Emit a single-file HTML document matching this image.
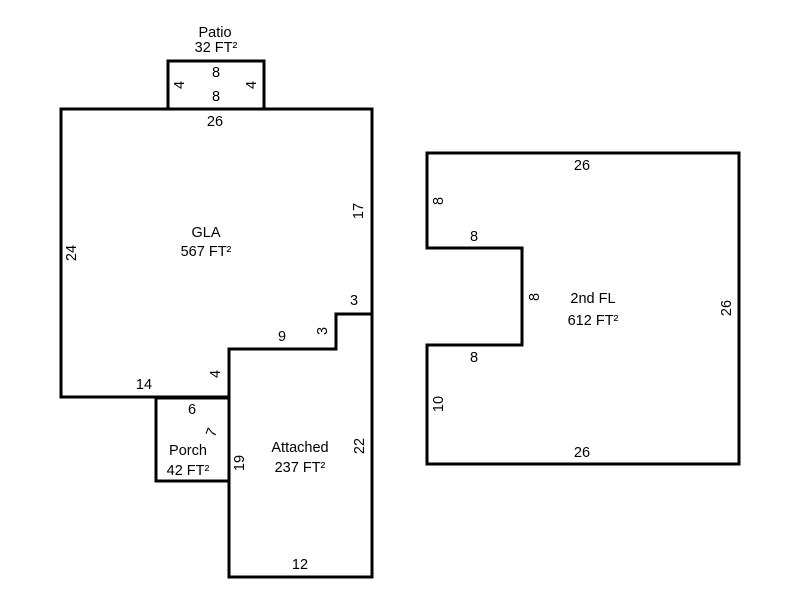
<!DOCTYPE html>
<html><head><style>
body{margin:0;background:#fff}
text{font-family:"Liberation Sans",Arial,sans-serif;font-size:14.5px;fill:#000;text-anchor:middle}
</style></head><body>
<svg width="800" height="600" xmlns="http://www.w3.org/2000/svg">
<g fill="none" stroke="#000" stroke-width="3">
<rect x="168" y="61" width="96" height="48"/>
<polyline points="229,397 61,397 61,109 372,109 372,314"/>
<polygon points="229,349 336,349 336,314 372,314 372,577 229,577"/>
<polyline points="229,398 156,398 156,481 229,481"/>
<polygon points="427,153 739,153 739,464 427,464 427,345 522,345 522,248 427,248"/>
</g>
<text x="215" y="37">Patio</text>
<text x="216" y="52">32 FT²</text>
<text x="216" y="77">8</text>
<text x="216" y="101">8</text>
<text transform="translate(184,85) rotate(-90)">4</text>
<text transform="translate(256,85) rotate(-90)">4</text>
<text x="215" y="126">26</text>
<text x="206" y="237">GLA</text>
<text x="206" y="256">567 FT²</text>
<text transform="translate(76,253) rotate(-90)">24</text>
<text transform="translate(363,211) rotate(-90)">17</text>
<text x="354" y="305">3</text>
<text transform="translate(327,331) rotate(-90)">3</text>
<text x="282" y="341">9</text>
<text transform="translate(220,374) rotate(-90)">4</text>
<text x="144" y="389">14</text>
<text x="192" y="414">6</text>
<text transform="translate(216,434) rotate(-70)">7</text>
<text x="188" y="455">Porch</text>
<text x="188" y="475">42 FT²</text>
<text transform="translate(244,463) rotate(-90)">19</text>
<text x="300" y="452">Attached</text>
<text x="300" y="472">237 FT²</text>
<text transform="translate(364,446) rotate(-90)">22</text>
<text x="300" y="569">12</text>
<text x="582" y="170">26</text>
<text transform="translate(443,201) rotate(-90)">8</text>
<text x="474" y="241">8</text>
<text transform="translate(539,297) rotate(-90)">8</text>
<text x="474" y="362">8</text>
<text transform="translate(443,404) rotate(-90)">10</text>
<text x="593" y="303">2nd FL</text>
<text x="593" y="325">612 FT²</text>
<text transform="translate(731,308) rotate(-90)">26</text>
<text x="582" y="457">26</text>
</svg>
</body></html>
